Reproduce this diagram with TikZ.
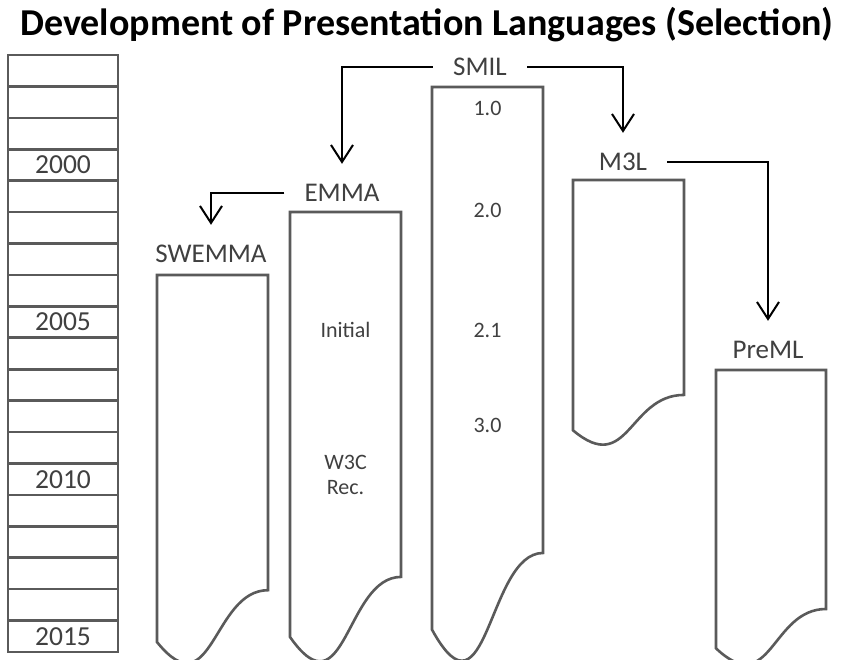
\documentclass[tikz,border=0pt]{standalone}
\usepackage{fontspec}
\setmainfont{Carlito}
\usetikzlibrary{arrows.meta}
\definecolor{boxgray}{HTML}{5A5A5A}
\definecolor{txtgray}{HTML}{404040}
\tikzset{
  boxline/.style={draw=boxgray, line width=2.6pt},
  yearbox/.style={draw=boxgray, line width=2.6pt, minimum width=110pt, minimum height=31.42pt,
    inner sep=0pt, font=\fontsize{27.5}{30}\selectfont, text=txtgray},
  lang/.style={font=\fontsize{27}{30}\selectfont, text=txtgray, text height=17pt, text depth=0pt,
    inner xsep=20pt, inner ysep=20pt, anchor=base},
  ver/.style={font=\fontsize{22}{25}\selectfont, text=txtgray, align=center, inner sep=0pt},
  arr/.style={draw=black, line width=2pt, -{Straight Barb[length=17pt,width=22pt]}},
}
% document-shaped column: left, top, width, height
\newcommand\docshape[4]{%
  \draw[boxline] (#1,#2) -- ({#1+#3},#2) -- ({#1+#3},{#2+0.802*#4})
    .. controls ({#1+0.5*#3},{#2+0.802*#4}) and ({#1+0.5*#3},{#2+1.108*#4}) .. (#1,{#2+0.934*#4}) -- cycle;}
\begin{document}
\begin{tikzpicture}[x=1pt,y=-1pt]
  \useasboundingbox (0,0) rectangle (845,659);
  \clip (0,0) rectangle (845,659);
  \fill[white] (0,0) rectangle (845,659);

  % title
  \node[font=\fontsize{38}{42}\selectfont\bfseries, anchor=base, inner sep=0pt] (title) at (427,35)
    {Development of Presentation Languages (Selection)};

  % year scale 1997--2015
  \foreach \i in {0,...,18} {
    \pgfmathtruncatemacro\yr{1997+\i}
    \pgfmathtruncatemacro\show{mod(\yr,5)==0}
    \ifnum\show=1
      \node[yearbox] (y\yr) at (63,{55+(\i+0.5)*31.42}) {\yr};
    \else
      \node[yearbox] (y\yr) at (63,{55+(\i+0.5)*31.42}) {};
    \fi
  }

  % language columns
  \docshape{157}{275}{111}{393}
  \docshape{290}{212}{111}{455}
  \docshape{432}{87}{111}{581}
  \docshape{573}{180}{111}{268}
  \docshape{716}{370}{110}{298}

  % language names
  \node[lang] (smil)   at (480,75)  {SMIL};
  \node[lang] (emma)   at (342,201) {EMMA};
  \node[lang] (m3l)    at (623,170) {M3L};
  \node[lang] (swemma) at (211,262) {SWEMMA};
  \node[lang] (preml)  at (768,358) {PreML};

  % versions
  \node[ver] (s10) at (487.5,108) {1.0};
  \node[ver] (s20) at (487.5,210) {2.0};
  \node[ver] (s21) at (487.5,330) {2.1};
  \node[ver] (s30) at (487.5,425) {3.0};
  \node[ver] (einit) at (345.5,330) {Initial};
  \node[ver] (erec)  at (345.5,475) {W3C\\Rec.};

  % derivations
  \draw[arr] (smil.west) -| (emma.north);
  \draw[arr] (smil.east) -| (m3l.north);
  \draw[arr] (emma.west) -| (swemma.north);
  \draw[arr] (m3l.east) -| (preml.north);
\end{tikzpicture}
\end{document}
